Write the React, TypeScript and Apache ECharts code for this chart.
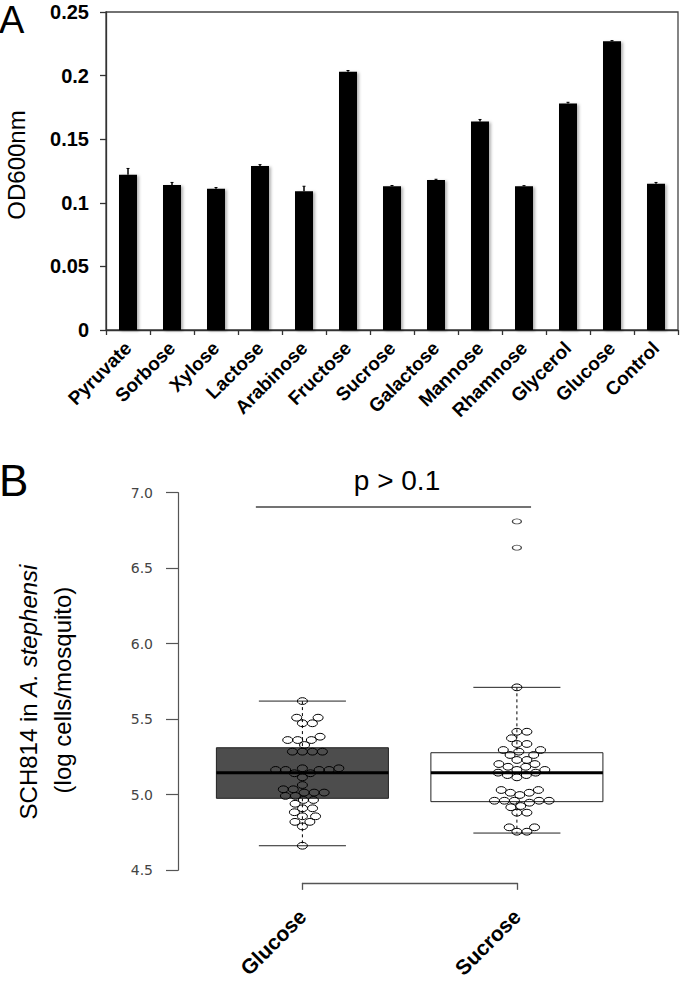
import React, { useEffect, useRef } from 'react';
import * as echarts from 'echarts';

// ---------- Panel A data ----------
const carbonSources = ['Pyruvate', 'Sorbose', 'Xylose', 'Lactose', 'Arabinose', 'Fructose', 'Sucrose', 'Galactose', 'Mannose', 'Rhamnose', 'Glycerol', 'Glucose', 'Control'];
const od600 = [0.122, 0.114, 0.111, 0.129, 0.109, 0.203, 0.113, 0.118, 0.164, 0.113, 0.178, 0.227, 0.115];
const od600Err = [0.005, 0.002, 0.001, 0.001, 0.004, 0.001, 0.0006, 0.0005, 0.0015, 0.0005, 0.001, 0.0005, 0.001];

// ---------- Panel B data ----------
const groups = ['Glucose', 'Sucrose'];
const glucoseValues = [5.62, 5.51, 5.51, 5.473, 5.473, 5.384, 5.362, 5.362, 5.362, 5.329, 5.285, 5.285, 5.285, 5.285, 5.175, 5.175, 5.164, 5.164, 5.164, 5.164, 5.142, 5.142, 5.115, 5.064, 5.036, 5.036, 5.014, 5.014, 5.014, 4.992, 4.992, 4.965, 4.965, 4.94, 4.91, 4.91, 4.884, 4.857, 4.857, 4.82, 4.82, 4.79, 4.662];
const sucroseValues = [5.711, 5.417, 5.417, 5.374, 5.336, 5.336, 5.296, 5.296, 5.285, 5.263, 5.263, 5.23, 5.23, 5.203, 5.203, 5.185, 5.185, 5.164, 5.164, 5.146, 5.146, 5.13, 5.13, 5.115, 5.031, 5.031, 5.013, 5.013, 4.998, 4.96, 4.96, 4.96, 4.96, 4.96, 4.947, 4.925, 4.917, 4.881, 4.881, 4.784, 4.784, 4.755, 4.755];
const sucroseOutliers = [6.81, 6.636];
const boxMin = [4.662, 4.746];
const boxQ1 = [4.976, 4.954];
const boxMedian = [5.146, 5.146];
const boxQ3 = [5.311, 5.278];
const boxMax = [5.62, 5.711];
const pValueLabel = 'p > 0.1';
const sigLineY = 6.905;
const sigLineX = [0.783, 2.066];

const boxFill = ['#4d4d4d', '#ffffff'];
const FONT = 'Liberation Sans, Arial, sans-serif';

function swarmOffsets(ys: number[], rx: number, ry: number): number[] {
  const order = ys.map((_, i) => i).sort((a, b) => ys[b] - ys[a]);
  const placed: { x: number; y: number }[] = [];
  const xs = new Array(ys.length).fill(0);
  for (const i of order) {
    const y = ys[i];
    const cands: number[] = [0];
    for (const p of placed) {
      const dy = (y - p.y) / (2 * ry);
      if (Math.abs(dy) < 1) {
        const dx = 2 * rx * Math.sqrt(1 - dy * dy);
        cands.push(p.x + dx, p.x - dx);
      }
    }
    cands.sort((a, b) => Math.abs(a) - Math.abs(b) || b - a);
    for (const c of cands) {
      const ok = placed.every(p => ((c - p.x) / (2 * rx)) ** 2 + ((y - p.y) / (2 * ry)) ** 2 >= 0.995);
      if (ok) {
        xs[i] = c;
        placed.push({ x: c, y });
        break;
      }
    }
  }
  return xs;
}

export default function App() {
  const ref = useRef<HTMLDivElement>(null);
  useEffect(() => {
    const chart = echarts.init(ref.current!, null, { renderer: 'svg' });
    const option: any = {
      animation: false,
      backgroundColor: '#fff',
      grid: [
        { left: 106, top: 12, width: 572, height: 318, show: true, borderColor: '#444', borderWidth: 1.3, containLabel: false },
        { left: 178, top: 492.7, width: 463.3, height: 377.5, containLabel: false },
        { left: 302.5, top: 880, width: 214.5, height: 6, containLabel: false },
      ],
      xAxis: [
        {
          gridIndex: 0, type: 'category', data: carbonSources, boundaryGap: true,
          axisLine: { show: true, lineStyle: { color: '#333', width: 1.3 } },
          axisTick: { show: true, length: 5, lineStyle: { color: '#333', width: 1.3 } },
          axisLabel: { interval: 0, rotate: 45, fontFamily: FONT, fontWeight: 'bold', fontSize: 19, color: '#000', margin: 15 },
        },
        { gridIndex: 1, type: 'value', min: 0.42, max: 2.58, show: false },
        {
          gridIndex: 2, type: 'value', min: 1, max: 2, interval: 1,
          axisLine: { show: true, onZero: false, lineStyle: { color: '#555', width: 1.3 } },
          axisTick: { show: true, length: 7, lineStyle: { color: '#555', width: 1.3 } },
          splitLine: { show: false },
          axisLabel: {
            rotate: 45, showMinLabel: true, showMaxLabel: true, fontFamily: FONT, fontWeight: 'bold', fontSize: 21, color: '#000', margin: 30,
            formatter: (v: number) => groups[Math.round(v) - 1] || '',
          },
        },
      ],
      yAxis: [
        {
          gridIndex: 0, type: 'value', min: 0, max: 0.25, interval: 0.05,
          axisLine: { show: true, lineStyle: { color: '#333', width: 1.3 } },
          axisTick: { show: true, length: 6, lineStyle: { color: '#333', width: 1.3 } },
          splitLine: { show: false },
          axisLabel: { fontFamily: FONT, fontWeight: 'bold', fontSize: 20, color: '#000', margin: 17 },
        },
        {
          gridIndex: 1, type: 'value', min: 4.5, max: 7, interval: 0.5,
          axisLine: { show: true, onZero: false, lineStyle: { color: '#555', width: 1.2 } },
          axisTick: { show: true, length: 12, lineStyle: { color: '#555', width: 1.2 } },
          splitLine: { show: false },
          axisLabel: { fontFamily: 'DejaVu Sans, sans-serif', fontSize: 14, color: '#444', margin: 25, formatter: (v: number) => v.toFixed(1) },
        },
        { gridIndex: 2, type: 'value', min: 0, max: 1, show: false },
      ],
      series: [
        {
          type: 'bar', xAxisIndex: 0, yAxisIndex: 0, data: od600, barWidth: 18,
          itemStyle: { color: '#000', shadowBlur: 3, shadowOffsetX: 2, shadowOffsetY: 1, shadowColor: 'rgba(0,0,0,0.3)' },
        },
        {
          type: 'custom', xAxisIndex: 0, yAxisIndex: 0,
          data: od600.map((v, i) => [i, v + od600Err[i]]),
          renderItem: (params: any, api: any) => {
            const i = params.dataIndex;
            const p0 = api.coord([i, od600[i]]);
            const p1 = api.coord([i, od600[i] + od600Err[i]]);
            return {
              type: 'group',
              children: [
                { type: 'line', shape: { x1: p0[0], y1: p0[1], x2: p1[0], y2: p1[1] }, style: { stroke: '#000', lineWidth: 1.5 } },
                { type: 'line', shape: { x1: p1[0] - 1.5, y1: p1[1], x2: p1[0] + 1.5, y2: p1[1] }, style: { stroke: '#000', lineWidth: 1 } },
              ],
            };
          },
        },
        {
          type: 'custom', xAxisIndex: 1, yAxisIndex: 1,
          data: groups.map((_, i) => [i + 1, boxMedian[i]]),
          renderItem: (params: any, api: any) => {
            const i = params.dataIndex;
            const g = i + 1;
            const w = 0.401, cw = 0.203;
            const tl = api.coord([g - w, boxQ3[i]]);
            const br = api.coord([g + w, boxQ1[i]]);
            const m1 = api.coord([g - w, boxMedian[i]]);
            const m2 = api.coord([g + w, boxMedian[i]]);
            const top = api.coord([g, boxMax[i]]);
            const q3 = api.coord([g, boxQ3[i]]);
            const q1 = api.coord([g, boxQ1[i]]);
            const bot = api.coord([g, boxMin[i]]);
            const ctl = api.coord([g - cw, boxMax[i]]);
            const ctr = api.coord([g + cw, boxMax[i]]);
            const cbl = api.coord([g - cw, boxMin[i]]);
            const cbr = api.coord([g + cw, boxMin[i]]);
            const dash = { stroke: '#000', lineWidth: 1, lineDash: [3, 3] };
            const solid = { stroke: '#222', lineWidth: 1 };
            return {
              type: 'group',
              children: [
                { type: 'line', shape: { x1: top[0], y1: top[1], x2: q3[0], y2: q3[1] }, style: dash },
                { type: 'line', shape: { x1: q1[0], y1: q1[1], x2: bot[0], y2: bot[1] }, style: dash },
                { type: 'line', shape: { x1: ctl[0], y1: ctl[1], x2: ctr[0], y2: ctr[1] }, style: solid },
                { type: 'line', shape: { x1: cbl[0], y1: cbl[1], x2: cbr[0], y2: cbr[1] }, style: solid },
                { type: 'rect', shape: { x: tl[0], y: tl[1], width: br[0] - tl[0], height: br[1] - tl[1] }, style: { fill: boxFill[i], stroke: '#222', lineWidth: 1 } },
                { type: 'line', shape: { x1: m1[0], y1: m1[1], x2: m2[0], y2: m2[1] }, style: { stroke: '#000', lineWidth: 3 } },
              ],
            };
          },
        },
        {
          type: 'custom', xAxisIndex: 1, yAxisIndex: 1,
          data: groups.map((_, i) => [i + 1, boxMedian[i]]),
          renderItem: (params: any, api: any) => {
            const i = params.dataIndex;
            const vals = i === 0 ? glucoseValues : sucroseValues;
            const cx = api.coord([i + 1, vals[0]])[0];
            const ys = vals.map(v => api.coord([i + 1, v])[1]);
            const xs = swarmOffsets(ys, 5, 3.4);
            return {
              type: 'group',
              children: ys.map((y, k) => ({
                type: 'ellipse',
                shape: { cx: cx + xs[k], cy: y, rx: 5, ry: 3.4 },
                style: { fill: 'none', stroke: '#000', lineWidth: 1 },
              })),
            };
          },
        },
        {
          type: 'scatter', xAxisIndex: 1, yAxisIndex: 1,
          data: sucroseOutliers.map(v => [2, v]),
          symbol: 'circle', symbolSize: [9, 5],
          itemStyle: { color: 'rgba(255,255,255,0)', borderColor: '#111', borderWidth: 1 },
          markLine: {
            silent: true, symbol: 'none',
            lineStyle: { color: '#444', width: 1.5, type: 'solid' },
            label: { show: false },
            data: [[{ coord: [sigLineX[0], sigLineY] }, { coord: [sigLineX[1], sigLineY] }]],
          },
        },
      ],
      graphic: [
        { type: 'text', x: -1, y: 20, style: { text: 'A', fontFamily: FONT, fontSize: 38, fill: '#000', textVerticalAlign: 'middle' } },
        { type: 'text', x: -1, y: 480, style: { text: 'B', fontFamily: FONT, fontSize: 44, fill: '#000', textVerticalAlign: 'middle' } },
        { type: 'text', x: 16, y: 165, rotation: Math.PI / 2, style: { text: 'OD600nm', fontFamily: FONT, fontSize: 24, fill: '#000', textAlign: 'center', textVerticalAlign: 'middle' } },
        {
          type: 'text', x: 28, y: 692, rotation: Math.PI / 2,
          style: {
            text: 'SCH814 in {i|A. stephensi}', fontFamily: FONT, fontSize: 24, fill: '#000', textAlign: 'center', textVerticalAlign: 'middle',
            rich: { i: { fontStyle: 'italic', fontFamily: FONT, fontSize: 24, fill: '#000' } },
          },
        },
        { type: 'text', x: 62, y: 690, rotation: Math.PI / 2, style: { text: '(log cells/mosquito)', fontFamily: FONT, fontSize: 24, fill: '#000', textAlign: 'center', textVerticalAlign: 'middle' } },
        { type: 'text', x: 397, y: 480, style: { text: pValueLabel, fontFamily: FONT, fontSize: 28, fill: '#000', textAlign: 'center', textVerticalAlign: 'middle' } },
      ],
    };
    chart.setOption(option);
    return () => chart.dispose();
  }, []);
  return <div ref={ref} style={{ position: 'absolute', left: 0, top: 0, width: 680, height: 981 }} />;
}
